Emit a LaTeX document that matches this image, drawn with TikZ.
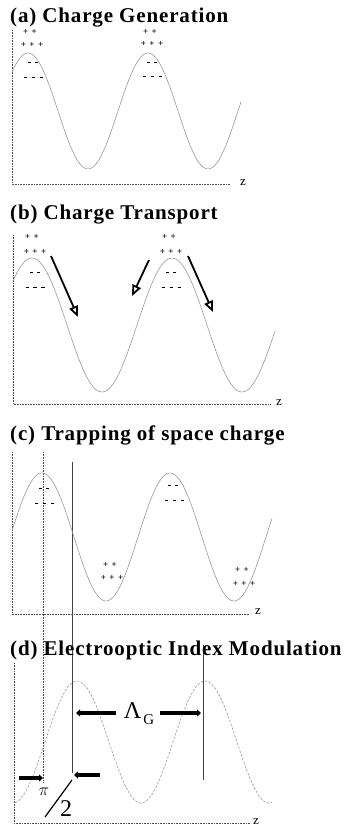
\documentclass[tikz,border=0pt]{standalone}
\usepackage{fontspec}
\setmainfont{Liberation Serif}
\newfontfamily\titlefont[LetterSpace=4.0]{Liberation Serif}
\usetikzlibrary{arrows.meta}
\newcommand{\chsp}{\hspace{3.5pt}}
\newcommand{\chmi}{\rule[2.3pt]{3pt}{0.8pt}}
\newcommand{\chpp}{+\chsp+}
\newcommand{\chppp}{+\chsp+\chsp+}
\newcommand{\chmm}{\chmi\hspace{4pt}\chmi}
\newcommand{\chmmm}{\chmi\hspace{5pt}\chmi\hspace{5pt}\chmi}
\begin{document}
\begin{tikzpicture}[x=1pt,y=-1pt,
  title/.style={anchor=base west, inner sep=0, font=\titlefont\bfseries\fontsize{21}{24}\selectfont},
  axis/.style={gray!60!black, densely dotted, line width=0.6pt},
  wave/.style={gray!80, line width=0.6pt},
  dwave/.style={wave, dash pattern=on 2.5pt off 1.5pt},
  chg/.style={inner sep=0, font=\bfseries\fontsize{9}{10}\selectfont},
  zlab/.style={inner sep=0, font=\fontsize{13}{14}\selectfont},
  vdot/.style={gray!60!black, densely dotted, line width=0.6pt},
  vsol/.style={gray!50!black, line width=0.5pt},
  tarrow/.style={line width=1.8pt, -{Triangle[open,length=11pt,width=9pt]}},
  barrow/.style={line width=3.4pt, -{Triangle[length=4pt,width=7pt]}}]
\useasboundingbox (0,0) rectangle (347,831);

% vertical guide lines (c)-(d)
\draw[vdot] (43,452) -- (43,782);
\draw[vsol] (72,462) -- (72,773);
\draw[vsol] (203,645) -- (203,780);

% ---------- (a)
\node[title] (ta) at (10,22) {(a) Charge Generation};
\draw[axis] (12,30) -- (12,184) -- (230,184);
\node[zlab] (za) at (243,183) {z};
\draw[wave] plot[domain=12:241, samples=120, smooth] (\x, {111-58*cos(3*(\x-28))});
\node[chg] (a1) at (30,32) {\chpp};
\node[chg] (a2) at (32,45) {\chppp};
\node[chg] (a3) at (33,64) {\chmm};
\node[chg] (a4) at (33,79) {\chmmm};
\node[chg] (a5) at (150,32) {\chpp};
\node[chg] (a6) at (152,44) {\chppp};
\node[chg] (a7) at (152,64) {\chmm};
\node[chg] (a8) at (152,78) {\chmmm};

% ---------- (b)
\node[title] (tb) at (10,219) {(b) Charge Transport};
\draw[axis] (13,235) -- (13,404) -- (270,404);
\node[zlab] (zb) at (279,403) {z};
\draw[wave] plot[domain=13:275, samples=140, smooth] (\x, {325-67*cos(2.5714*(\x-32))});
\node[chg] (b1) at (32,237) {\chpp};
\node[chg] (b2) at (35,252) {\chppp};
\node[chg] (b3) at (35,274) {\chmm};
\node[chg] (b4) at (35,289) {\chmmm};
\node[chg] (b5) at (169,237) {\chpp};
\node[chg] (b6) at (171,252) {\chppp};
\node[chg] (b7) at (171,274) {\chmm};
\node[chg] (b8) at (171,289) {\chmmm};
\coordinate (p1s) at (51,256); \coordinate (p1e) at (78,317);
\coordinate (p2s) at (149,260); \coordinate (p2e) at (132,296);
\coordinate (p3s) at (188,256); \coordinate (p3e) at (213,312);
\draw[tarrow] (p1s) -- (p1e);
\draw[tarrow] (p2s) -- (p2e);
\draw[tarrow] (p3s) -- (p3e);

% ---------- (c)
\node[title] (tc) at (10,440) {(c) Trapping of space charge};
\draw[axis] (12,452) -- (12,614) -- (250,614);
\node[zlab] (zc) at (258,612) {z};
\draw[wave] plot[domain=12:272, samples=140, smooth] (\x, {537-64*cos(2.8125*(\x-42))});
\node[chg] (c1) at (44,490) {\chmm};
\node[chg] (c2) at (44,505) {\chmmm};
\node[chg] (c3) at (173,487) {\chmm};
\node[chg] (c4) at (174,502) {\chmmm};
\node[chg] (c5) at (110,565) {\chpp};
\node[chg] (c6) at (112,578) {\chppp};
\node[chg] (c7) at (242,570) {\chpp};
\node[chg] (c8) at (244,584) {\chppp};

% ---------- (d)
\node[title] (td) at (10,655) {(d) Electrooptic Index Modulation};
\draw[axis] (14,663) -- (14,823) -- (250,823);
\node[zlab] (zd) at (256,822) {z};
\draw[dwave] plot[domain=15:272, samples=140, smooth] (\x, {742-61*cos(2.8125*(\x-77))});
\node[inner sep=0, font=\fontsize{24}{26}\selectfont] (lam) at (139,714)
  {Λ\hspace{2pt}\raisebox{-6pt}{\fontsize{15}{16}\selectfont G}};
\coordinate (l1s) at (116,713); \coordinate (l1e) at (76,713);
\coordinate (l2s) at (160,713); \coordinate (l2e) at (201,713);
\draw[barrow] (l1s) -- (l1e);
\draw[barrow] (l2s) -- (l2e);
\coordinate (s1s) at (19,778); \coordinate (s1e) at (43,778);
\coordinate (s2s) at (100,775); \coordinate (s2e) at (74,775);
\draw[barrow] (s1s) -- (s1e);
\draw[barrow] (s2s) -- (s2e);
\node[inner sep=0, font=\fontsize{18}{20}\selectfont] (pi) at (44,792) {$\pi$};
\coordinate (sl1) at (45,817); \coordinate (sl2) at (72,780);
\draw[line width=1.2pt] (sl1) -- (sl2);
\node[inner sep=0, font=\fontsize{24}{26}\selectfont] (two) at (66,809) {2};
\end{tikzpicture}
\end{document}
